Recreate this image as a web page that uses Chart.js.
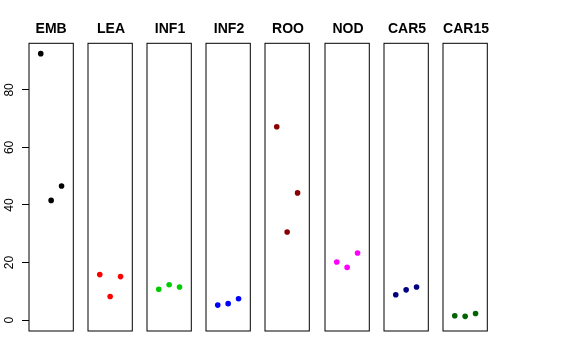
<!DOCTYPE html>
<html><head><meta charset="utf-8">
<script src="https://cdn.jsdelivr.net/npm/chart.js@4"></script>
<style>
html,body{margin:0;padding:0;background:#fff;width:576px;height:360px;overflow:hidden}
#wrap{position:relative;width:576px;height:360px}
canvas{position:absolute;top:0}
</style></head><body>
<div id="wrap"></div>
<script>
// ---- data ----
const categories = ['EMB','LEA','INF1','INF2','ROO','NOD','CAR5','CAR15'];
const EMB   = [92.6, 41.6, 46.6];
const LEA   = [15.8, 8.2, 15.1];
const INF1  = [10.7, 12.3, 11.5];
const INF2  = [5.2, 5.7, 7.4];
const ROO   = [67.2, 30.6, 44.2];
const NOD   = [20.2, 18.3, 23.3];
const CAR5  = [8.8, 10.5, 11.5];
const CAR15 = [1.5, 1.3, 2.3];
const seriesValues = [EMB, LEA, INF1, INF2, ROO, NOD, CAR5, CAR15];
const replicate = [1, 2, 3];
const yTicks = [0, 20, 40, 60, 80];
const colors = ['#000000','#FF0000','#00CD00','#0000FF','#8B0000','#FF00FF','#000080','#006400'];

// ---- layout ----
const panelLeft = [29, 88, 147.2, 206.3, 265.3, 324.6, 383.8, 443];
const panelW = 44.3;
const margin = 12;
const areaTop = 43.3, areaBottom = 331;
const FONT = "'Liberation Sans', Arial, Helvetica, sans-serif";

const boxPlugin = {
  id: 'box',
  afterDatasetsDraw(chart) {
    const {ctx, chartArea: a} = chart;
    ctx.save();
    ctx.strokeStyle = '#000';
    ctx.lineWidth = 1;
    ctx.strokeRect(a.left, a.top, a.right - a.left, a.bottom - a.top);
    ctx.restore();
  }
};

const spacerAxis = (pos, w) => ({
  type: 'linear', position: pos, display: true,
  grid: {display: false, drawTicks: false}, border: {display: false},
  ticks: {display: false},
  afterFit: s => { s.width = w; }
});

const wrap = document.getElementById('wrap');
categories.forEach((cat, i) => {
  const first = i === 0;
  const L = first ? 0 : panelLeft[i] - margin;
  const W = first ? Math.ceil(panelLeft[0] + panelW + margin) : panelW + 2 * margin;
  const cv = document.createElement('canvas');
  cv.width = Math.ceil(W + 1); cv.height = 360;
  cv.style.left = L + 'px';
  cv.style.width = cv.width + 'px'; cv.style.height = '360px';
  wrap.appendChild(cv);
  const rightMargin = cv.width - (first ? panelLeft[0] : margin) - panelW;
  const titleH = 14 * 1.2;
  const titlePadTop = 29.3 - titleH / 2;
  const titlePadBottom = areaTop - titlePadTop - titleH;
  const scales = {
    x: {type: 'linear', min: -0.13, max: 4.13, display: false},
    y: {
      type: 'linear', min: -3.8, max: 96.2,
      position: 'left',
      afterBuildTicks: s => { s.ticks = yTicks.map(v => ({value: v})); },
      afterFit: s => { s.width = first ? panelLeft[0] : margin; },
      border: {display: false},
      grid: {display: first, drawOnChartArea: false, drawTicks: true, tickLength: 7, color: '#000', lineWidth: 1},
      ticks: {
        display: first,
        color: '#000', font: {family: FONT, size: 12},
        minRotation: 90, maxRotation: 90, crossAlign: 'center', padding: 6
      }
    },
    yr: spacerAxis('right', rightMargin)
  };
  new Chart(cv, {
    type: 'scatter',
    data: {
      datasets: [{
        data: seriesValues[i].map((v, k) => ({x: replicate[k], y: v})),
        backgroundColor: colors[i],
        borderColor: colors[i],
        pointRadius: 2.8,
        borderWidth: 0
      }]
    },
    options: {
      responsive: false,
      animation: false,
      devicePixelRatio: 1,
      layout: {padding: {left: 0, right: 0, top: 0, bottom: 360 - areaBottom}},
      plugins: {
        legend: {display: false},
        tooltip: {enabled: false},
        title: {
          display: true, text: cat, color: '#000', fullSize: !first,
          font: {family: FONT, size: 14, weight: 'bold', lineHeight: 1.2},
          padding: {top: titlePadTop, bottom: titlePadBottom}
        }
      },
      scales
    },
    plugins: [boxPlugin]
  });
});
</script>
</body></html>
